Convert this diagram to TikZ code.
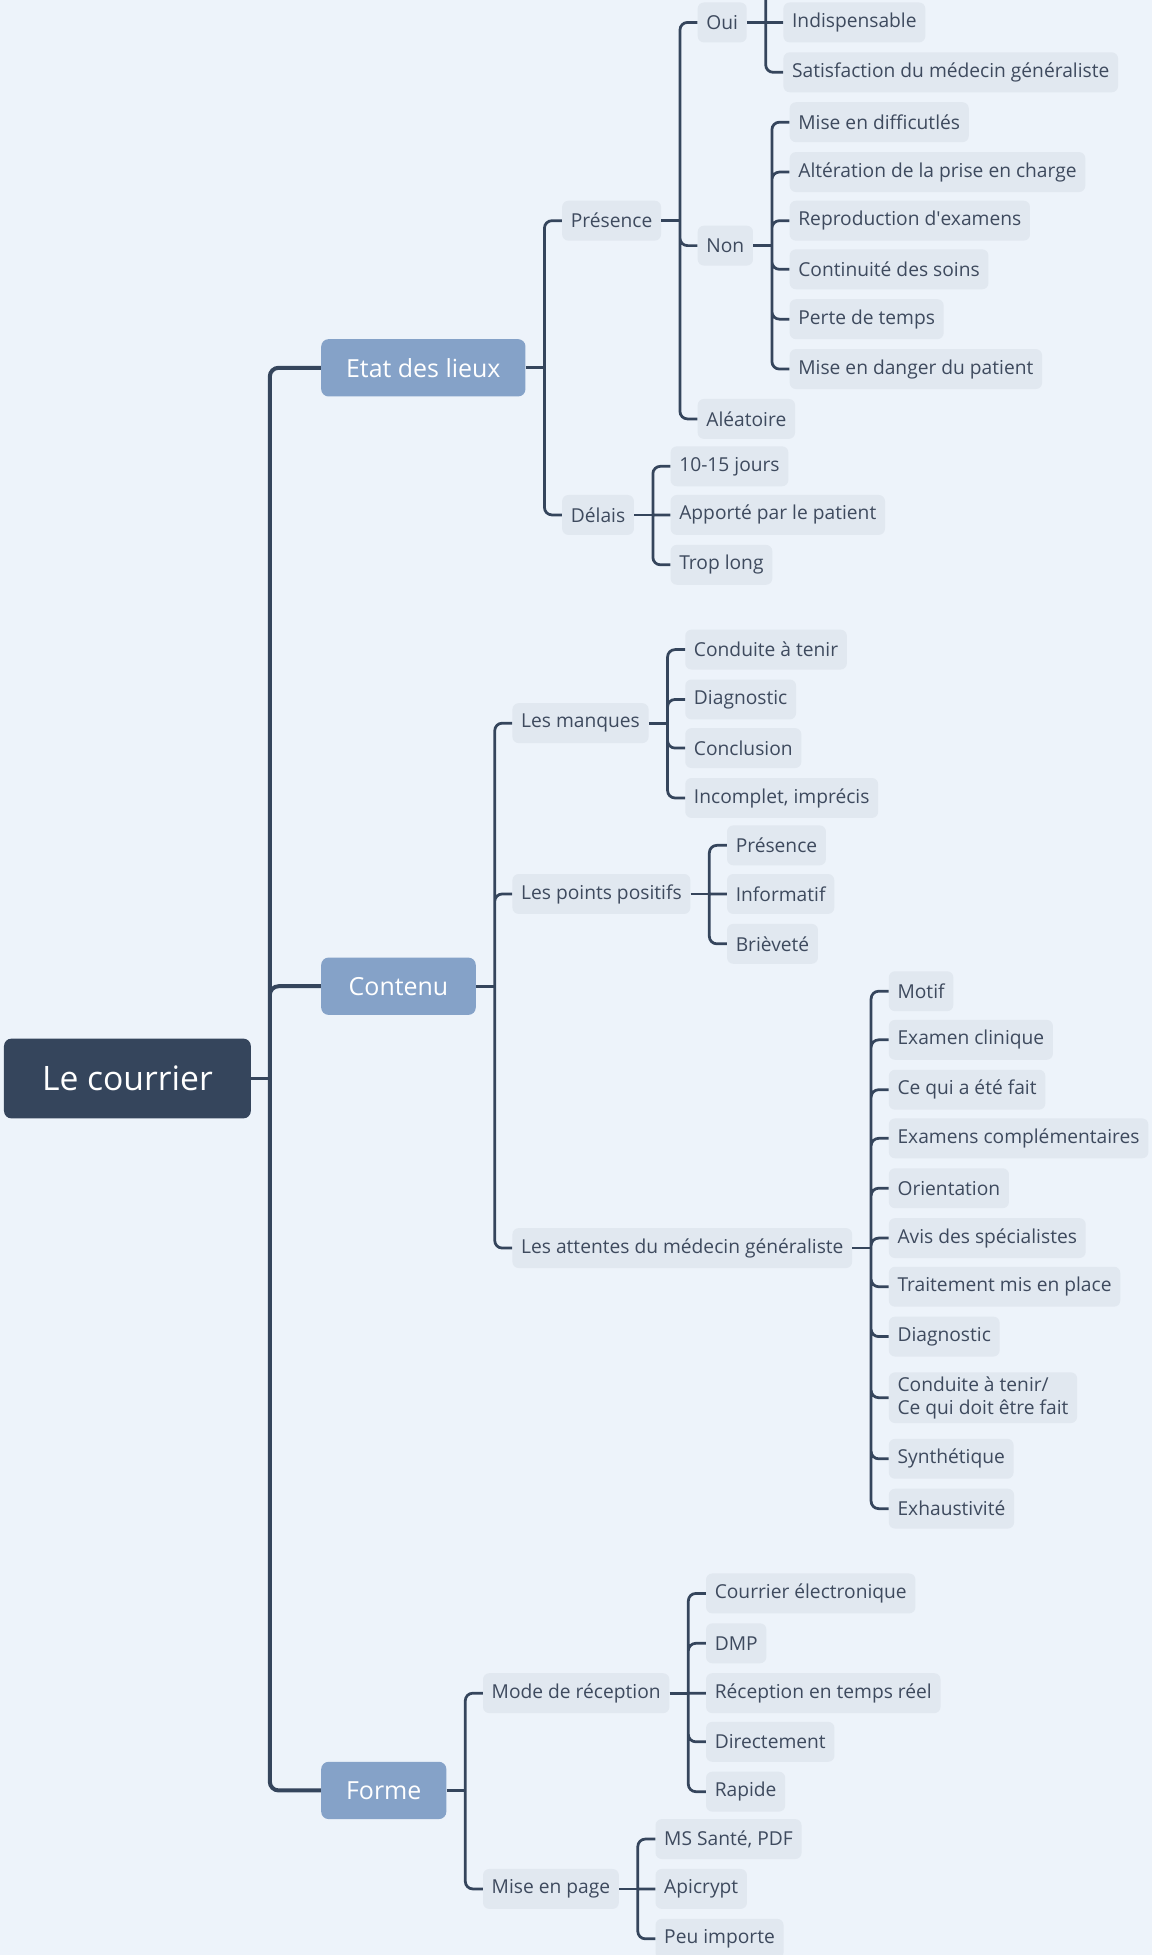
\documentclass[tikz,border=0pt]{standalone}
\usepackage{fontspec}
\setmainfont{Open Sans}
\usepackage{tikz}
\usetikzlibrary{positioning}

\definecolor{bgcol}{RGB}{237,243,250}
\definecolor{darkcol}{RGB}{53,69,92}
\definecolor{topiccol}{RGB}{133,162,200}
\definecolor{leafcol}{RGB}{225,232,240}
\definecolor{textcol}{RGB}{62,74,94}

\tikzset{
  central/.style={fill=darkcol, text=white, rounded corners=6pt, minimum width=198pt, minimum height=64pt, font=\fontsize{27pt}{31pt}\selectfont},
  topic/.style={fill=topiccol, text=white, rounded corners=6pt, inner xsep=20pt, minimum height=46pt, font=\fontsize{20pt}{24pt}\selectfont},
  leaf/.style={fill=leafcol, text=textcol, rounded corners=5pt, inner xsep=7pt, minimum height=32pt, font=\fontsize{15.4pt}{18.5pt}\selectfont},
  trunk/.style={draw=darkcol, line width=3.2pt, rounded corners=7pt},
  branch/.style={draw=darkcol, line width=2.2pt, rounded corners=6pt},
}

\begin{document}
\begin{tikzpicture}
    \fill[bgcol] (0,0) rectangle (924pt,-1568pt);
    \useasboundingbox (0,0) rectangle (924pt,-1568pt);
    \coordinate (cut) at (0,0);

    \node[central, anchor=west] (lc) at (3pt,-865pt) {Le courrier};

    % main topics
    \node[topic, right=56pt of lc, yshift=570pt] (edl) {Etat des lieux};
    \node[topic, right=56pt of lc, yshift=74pt, minimum width=124pt] (cont) {Contenu};
    \node[topic, right=56pt of lc, yshift=-571pt] (form) {Forme};

    % Etat des lieux
    \node[leaf, right=29pt of edl, yshift=118pt] (pres) {Présence};
    \node[leaf, right=29pt of edl, yshift=-118pt] (del) {Délais};

    \node[leaf, right=29pt of pres, yshift=159pt] (oui) {Oui};
    \node[leaf, right=29pt of pres, yshift=-20pt] (non) {Non};
    \node[leaf, right=29pt of pres, yshift=-159pt] (alea) {Aléatoire};

    \node[leaf, right=29pt of oui] (o1) {Indispensable};
    \node[leaf, right=29pt of oui, yshift=-40pt] (o2) {Satisfaction du médecin généraliste};

    \node[leaf, right=29pt of non, yshift=99pt] (n1) {Mise en difficutlés};
    \node[leaf, right=29pt of non, yshift=59pt] (n2) {Altération de la prise en charge};
    \node[leaf, right=29pt of non, yshift=20pt] (n3) {Reproduction d\textquotesingle examens};
    \node[leaf, right=29pt of non, yshift=-19pt] (n4) {Continuité des soins};
    \node[leaf, right=29pt of non, yshift=-59pt] (n5) {Perte de temps};
    \node[leaf, right=29pt of non, yshift=-99pt] (n6) {Mise en danger du patient};

    \node[leaf, right=29pt of del, yshift=39pt] (d1) {10-15 jours};
    \node[leaf, right=29pt of del] (d2) {Apporté par le patient};
    \node[leaf, right=29pt of del, yshift=-40pt] (d3) {Trop long};

    % Contenu
    \node[leaf, right=29pt of cont, yshift=211pt] (man) {Les manques};
    \node[leaf, right=29pt of cont, yshift=74pt] (pos) {Les points positifs};
    \node[leaf, right=29pt of cont, yshift=-210pt] (att) {Les attentes du médecin généraliste};

    \node[leaf, right=29pt of man, yshift=59pt] (m1) {Conduite à tenir};
    \node[leaf, right=29pt of man, yshift=19pt] (m2) {Diagnostic};
    \node[leaf, right=29pt of man, yshift=-20pt] (m3) {Conclusion};
    \node[leaf, right=29pt of man, yshift=-60pt] (m4) {Incomplet, imprécis};

    \node[leaf, right=29pt of pos, yshift=39pt] (p1) {Présence};
    \node[leaf, right=29pt of pos] (p2) {Informatif};
    \node[leaf, right=29pt of pos, yshift=-40pt] (p3) {Brièveté};

    \node[leaf, right=29pt of att, yshift=206pt] (a1) {Motif};
    \node[leaf, right=29pt of att, yshift=167pt] (a2) {Examen clinique};
    \node[leaf, right=29pt of att, yshift=127pt] (a3) {Ce qui a été fait};
    \node[leaf, right=29pt of att, yshift=88pt] (a4) {Examens complémentaires};
    \node[leaf, right=29pt of att, yshift=48pt] (a5) {Orientation};
    \node[leaf, right=29pt of att, yshift=8pt] (a6) {Avis des spécialistes};
    \node[leaf, right=29pt of att, yshift=-31pt] (a7) {Traitement mis en place};
    \node[leaf, right=29pt of att, yshift=-71pt] (a8) {Diagnostic};
    \node[leaf, right=29pt of att, yshift=-120pt, align=left] (a9) {Conduite à tenir/\\Ce qui doit être fait};
    \node[leaf, right=29pt of att, yshift=-169pt] (a10) {Synthétique};
    \node[leaf, right=29pt of att, yshift=-209pt] (a11) {Exhaustivité};

    % Forme
    \node[leaf, right=29pt of form, yshift=78pt] (mode) {Mode de réception};
    \node[leaf, right=29pt of form, yshift=-79pt] (page) {Mise en page};

    \node[leaf, right=29pt of mode, yshift=80pt] (r1) {Courrier électronique};
    \node[leaf, right=29pt of mode, yshift=40pt] (r2) {DMP};
    \node[leaf, right=29pt of mode] (r3) {Réception en temps réel};
    \node[leaf, right=29pt of mode, yshift=-39pt] (r4) {Directement};
    \node[leaf, right=29pt of mode, yshift=-79pt] (r5) {Rapide};

    \node[leaf, right=29pt of page, yshift=40pt] (g1) {MS Santé, PDF};
    \node[leaf, right=29pt of page] (g2) {Apicrypt};
    \node[leaf, right=29pt of page, yshift=-40pt] (g3) {Peu importe};

    % connectors
    \draw[trunk] (lc.east) -- ++(15pt,0) coordinate (lc-j);
    \draw[trunk] (lc-j) |- (edl.west) (lc-j) |- (cont.west) (lc-j) |- (form.west);

    \draw[branch] (edl.east) -- ++(15pt,0) coordinate (edl-j);
    \draw[branch] (edl-j) |- (pres.west) (edl-j) |- (del.west);

    \draw[branch] (pres.east) -- ++(15pt,0) coordinate (pres-j);
    \draw[branch] (pres-j) |- (oui.west) (pres-j) |- (non.west) (pres-j) |- (alea.west);

    \draw[branch] (oui.east) -- ++(15pt,0) coordinate (oui-j);
    \draw[branch] (oui-j) -- (o1.west) (oui-j) |- (o2.west) (oui-j) -- (oui-j |- cut);

    \draw[branch] (non.east) -- ++(15pt,0) coordinate (non-j);
    \draw[branch] (non-j) |- (n1.west) (non-j) |- (n2.west) (non-j) |- (n3.west)
        (non-j) |- (n4.west) (non-j) |- (n5.west) (non-j) |- (n6.west);

    \draw[branch] (del.east) -- ++(15pt,0) coordinate (del-j);
    \draw[branch] (del-j) |- (d1.west) (del-j) -- (d2.west) (del-j) |- (d3.west);

    \draw[branch] (cont.east) -- ++(15pt,0) coordinate (cont-j);
    \draw[branch] (cont-j) |- (man.west) (cont-j) |- (pos.west) (cont-j) |- (att.west);

    \draw[branch] (man.east) -- ++(15pt,0) coordinate (man-j);
    \draw[branch] (man-j) |- (m1.west) (man-j) |- (m2.west) (man-j) |- (m3.west) (man-j) |- (m4.west);

    \draw[branch] (pos.east) -- ++(15pt,0) coordinate (pos-j);
    \draw[branch] (pos-j) |- (p1.west) (pos-j) -- (p2.west) (pos-j) |- (p3.west);

    \draw[branch] (att.east) -- ++(15pt,0) coordinate (att-j);
    \draw[branch] (att-j) |- (a1.west) (att-j) |- (a2.west) (att-j) |- (a3.west) (att-j) |- (a4.west)
        (att-j) |- (a5.west) (att-j) |- (a6.west) (att-j) |- (a7.west) (att-j) |- (a8.west)
        (att-j) |- (a9.west) (att-j) |- (a10.west) (att-j) |- (a11.west);

    \draw[branch] (form.east) -- ++(15pt,0) coordinate (form-j);
    \draw[branch] (form-j) |- (mode.west) (form-j) |- (page.west);

    \draw[branch] (mode.east) -- ++(15pt,0) coordinate (mode-j);
    \draw[branch] (mode-j) |- (r1.west) (mode-j) |- (r2.west) (mode-j) -- (r3.west)
        (mode-j) |- (r4.west) (mode-j) |- (r5.west);

    \draw[branch] (page.east) -- ++(15pt,0) coordinate (page-j);
    \draw[branch] (page-j) |- (g1.west) (page-j) -- (g2.west) (page-j) |- (g3.west);
\end{tikzpicture}
\end{document}
